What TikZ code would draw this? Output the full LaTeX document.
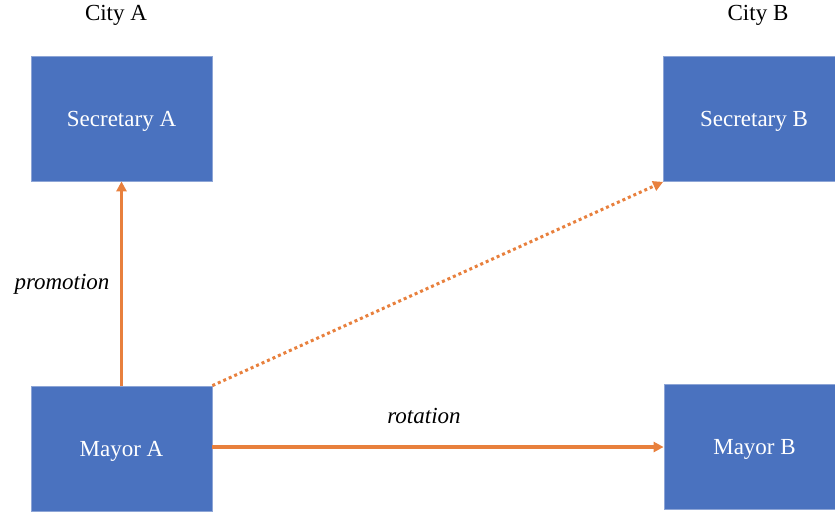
\documentclass[tikz,border=0pt]{standalone}
\usepackage{fontspec}
\setmainfont{Liberation Serif}
\usetikzlibrary{arrows.meta}
\definecolor{boxblue}{HTML}{4A72BF}
\definecolor{boxedge}{HTML}{8DA5D6}
\definecolor{linkorange}{HTML}{E8803D}
\tikzset{
  role/.style={rectangle, fill=boxblue, draw=boxedge, line width=0.8pt,
    minimum width=181pt, minimum height=125pt, inner sep=0pt,
    text=white, font=\fontsize{23}{27}\selectfont, text depth=0pt},
  city/.style={font=\fontsize{23}{27}\selectfont},
  tag/.style={font=\fontsize{23}{27}\selectfont\itshape},
  link/.style={draw=linkorange, line width=3.5pt,
    -{Triangle[length=10pt,width=10pt]}},
  linkdotted/.style={link, line width=3pt, dash pattern=on 3pt off 3pt}
}
\begin{document}
\begin{tikzpicture}[x=1pt,y=-1pt]
  \useasboundingbox (0,0) rectangle (835,512);
  \begin{scope}
    \clip (0,0) rectangle (835,512);
    \node[city] (cityA) at (116,15) {City A};
    \node[city] (cityB) at (758,15) {City B};
    \node[role] (secA) at (121.5,118.5) {Secretary A};
    \node[role] (mayA) at (121.5,448.5) {Mayor A};
    \node[role] (secB) at (754,119) {Secretary B};
    \node[role] (mayB) at (754.5,447) {Mayor B};
    % career moves
    \draw[link] (mayA.north) -- (secA.south);
    \draw[link] (mayA.east |- 0,447) -- (mayB.west |- 0,447);
    \draw[linkdotted] (mayA.north east) -- (secB.south west);
    \node[tag] (promo) at (62,284) {promotion};
    \node[tag] (rot) at (424,416) {rotation};
  \end{scope}
\end{tikzpicture}
\end{document}
